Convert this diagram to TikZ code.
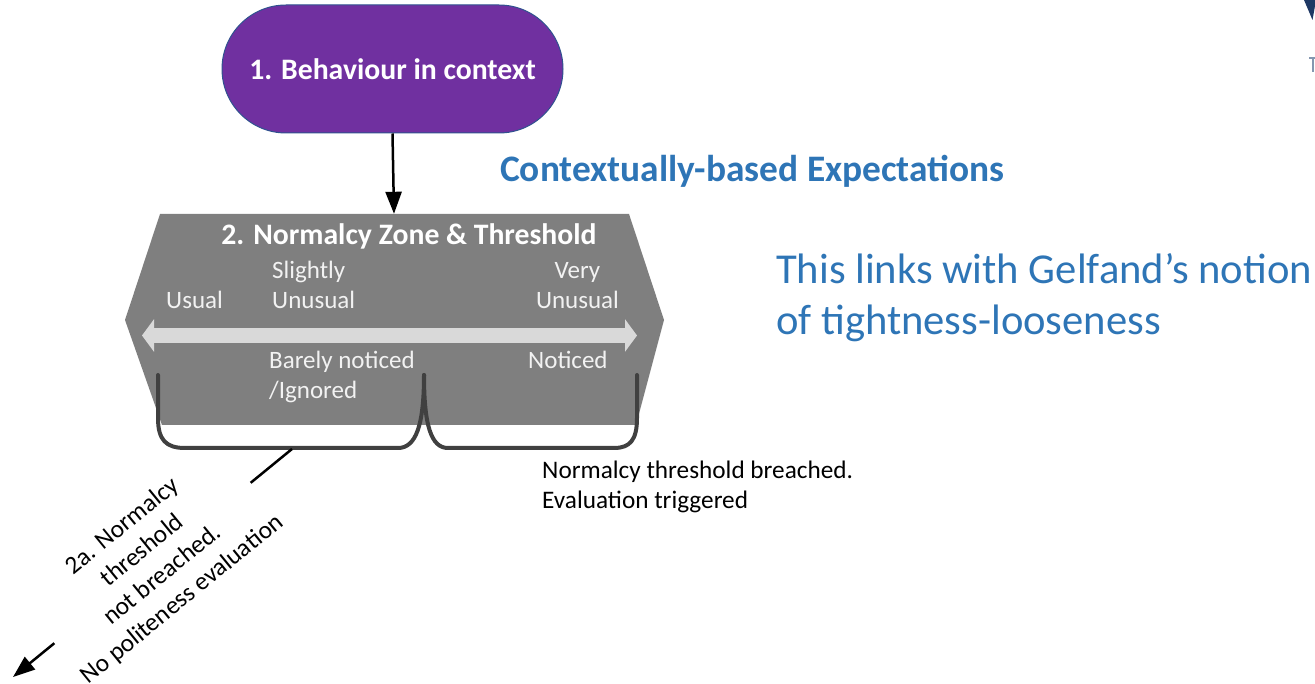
\documentclass[tikz,border=0pt]{standalone}
\usepackage{fontspec}
\setmainfont{Carlito}
\usetikzlibrary{arrows.meta,shapes.misc,calc}
\definecolor{behpurple}{HTML}{7030A0}
\definecolor{behborder}{HTML}{2F528F}
\definecolor{zonegray}{HTML}{7F7F7F}
\definecolor{axisgray}{HTML}{D9D9D9}
\definecolor{bracketgray}{HTML}{404040}
\definecolor{noteblue}{HTML}{2E75B6}
\definecolor{zonetext}{HTML}{F2F2F2}
\definecolor{edgenavy}{HTML}{1F3864}
\definecolor{edgeslate}{HTML}{8497B0}
\begin{document}
\begin{tikzpicture}[x=1pt,y=1pt,
  zonelabel/.style={text=zonetext, font=\fontsize{25}{30}\selectfont, inner sep=0},
  bluenote/.style={text=noteblue, inner sep=0, anchor=base west},
  flowarrow/.style={line width=2.5, -{Triangle[length=22pt,width=16pt]}},
  bracketline/.style={draw=bracketgray, line width=4, line cap=round, line join=round}]
\useasboundingbox (0,0) rectangle (1315,-684);

% step 1: the behaviour terminal
\node[rounded rectangle, fill=behpurple, draw=behborder, line width=1,
      minimum width=341, minimum height=128, inner sep=0, text=white,
      font=\bfseries\fontsize{29.7}{35}\selectfont] (beh) at (392.5,-69) {1. Behaviour in context};

% step 2: the normalcy zone hexagon
\fill[zonegray] (160,-214) -- (629,-214) -- (664,-320) -- (636,-425)
  -- (162,-425) -- (125,-320) -- cycle;
\node[minimum width=470, minimum height=211, inner sep=0] (zone) at (394,-319.5) {};

\draw[flowarrow] (beh.south) -- (zone.north);

% usual <-> unusual axis
\coordinate (axisL) at (142,-335.5);
\coordinate (axisR) at (637,-335.5);
\draw[axisgray, line width=15,
  {Triangle[length=12pt,width=32pt]}-{Triangle[length=12pt,width=32pt]}] (axisL) -- (axisR);

% multi-line labels are placed by the baseline of their last line
\node[anchor=base, text=white, inner sep=0,
      font=\bfseries\fontsize{29.7}{35}\selectfont] (zonetitle) at (409,-245) {2. Normalcy Zone \& Threshold};
\node[zonelabel, anchor=base west] (usual) at (166,-309) {Usual};
\node[zonelabel, anchor=base west, align=left] (slight) at (272,-309) {Slightly\\Unusual};
\node[zonelabel, anchor=base, align=center] (very) at (577.5,-309) {Very\\Unusual};
\node[zonelabel, anchor=base west, align=left] (barely) at (269,-399) {Barely noticed\\/Ignored};
\node[zonelabel, anchor=base west] (noticed) at (528,-369) {Noticed};

% brackets grouping the two reactions
\draw[bracketline] (158,-375) -- (158,-418) .. controls (158,-440) and (166,-448) .. (185,-448)
  -- (398,-448) .. controls (416,-448) and (424,-425) .. (424,-375);
\draw[bracketline] (424,-375) .. controls (424,-425) and (431,-448) .. (448,-448)
  -- (614,-448) .. controls (630,-448) and (637,-440) .. (637,-418) -- (637,-375);

% side notes
\node[bluenote, font=\bfseries\fontsize{37.4}{44}\selectfont] (expect) at (500,-182) {Contextually-based Expectations};
\node[bluenote, align=left, font=\fontsize{42.6}{51}\selectfont] (gelfand) at (776,-335)
  {This links with Gelfand’s notion\\of tightness-looseness};
\node[anchor=base west, align=left, inner sep=0, font=\fontsize{25.25}{30}\selectfont] (breach) at (542,-508)
  {Normalcy threshold breached.\\Evaluation triggered};

% step 2a: exit without evaluation
\coordinate (brk) at (292,-449);
\coordinate (sink) at (13,-677);
\node[rotate=39.25, align=center, inner sep=0, font=\fontsize{25.3}{31.5}\selectfont] (nobreach)
  at ($(brk)!0.5!(sink)$) {2a. Normalcy\\threshold\\not breached.\\No politeness evaluation};
\draw[line width=2.5] (brk) -- (nobreach.east);
\draw[flowarrow] (nobreach.west) -- (sink);

% clipped pieces at the right edge
\fill[edgenavy] (1304,0) -- (1315,0) -- (1315,-6) -- (1312.5,-20) -- cycle;
\fill[edgeslate] (1309,-57) rectangle (1315,-59.5);
\fill[edgeslate] (1311.5,-59.5) rectangle (1313.5,-72);
\end{tikzpicture}
\end{document}
